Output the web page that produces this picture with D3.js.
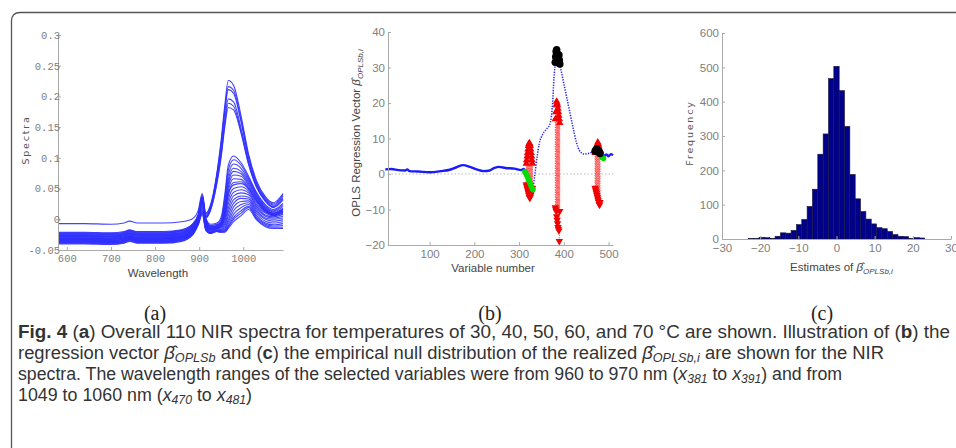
<!DOCTYPE html>
<html>
<head>
<meta charset="utf-8">
<script src="https://cdn.jsdelivr.net/npm/d3@7"></script>
<style>
  body { margin: 0; background: white; }
  .axis path, .axis line { stroke: #aaa; }
  .axis text { fill: #808080; }
</style>
</head>
<body>
<div id="fig"></div>
<script>
// ---- panel (a): NIR spectra ----
var wavelengths = [580, 640, 700, 730, 742, 760, 820, 860, 885, 898, 907, 915, 925, 940, 950, 958, 966, 978, 995, 1012, 1030, 1050, 1068, 1090];
var spectra = [
  [-0.007,-0.007,-0.008,-0.006,-0.003,-0.006,-0.006,-0.004,0.001,0.015,0.042,0.010,0.022,0.075,0.130,0.185,0.226,0.218,0.168,0.106,0.063,0.037,0.027,0.042],
  [-0.021,-0.021,-0.022,-0.020,-0.017,-0.020,-0.020,-0.017,-0.008,0.008,0.040,0.008,0.020,0.072,0.125,0.178,0.216,0.210,0.162,0.102,0.060,0.035,0.025,0.040],
  [-0.024,-0.024,-0.025,-0.023,-0.020,-0.023,-0.023,-0.020,-0.010,0.006,0.038,0.006,0.018,0.070,0.122,0.174,0.211,0.205,0.158,0.100,0.058,0.033,0.023,0.038],
  [-0.027,-0.027,-0.028,-0.026,-0.023,-0.026,-0.026,-0.023,-0.013,0.004,0.036,0.004,0.016,0.064,0.112,0.162,0.196,0.191,0.148,0.094,0.055,0.031,0.021,0.035],
  [-0.030,-0.030,-0.031,-0.029,-0.026,-0.029,-0.029,-0.026,-0.016,0.003,0.035,0.003,0.014,0.060,0.106,0.155,0.189,0.184,0.143,0.091,0.053,0.030,0.020,0.033],
  [-0.033,-0.033,-0.034,-0.032,-0.029,-0.032,-0.032,-0.029,-0.018,0.002,0.034,0.002,0.013,0.057,0.102,0.150,0.182,0.178,0.140,0.089,0.052,0.029,0.019,0.031],
  [-0.023,-0.023,-0.024,-0.022,-0.019,-0.022,-0.022,-0.019,-0.009,0.006,0.036,0.002,-0.008,-0.006,0.004,0.040,0.088,0.103,0.092,0.070,0.044,0.024,0.016,0.026],
  [-0.026,-0.026,-0.027,-0.025,-0.022,-0.025,-0.025,-0.022,-0.012,0.004,0.034,0.000,-0.010,-0.008,0.000,0.034,0.080,0.097,0.088,0.067,0.042,0.022,0.014,0.024],
  [-0.028,-0.028,-0.029,-0.027,-0.024,-0.027,-0.027,-0.024,-0.014,0.002,0.032,-0.002,-0.012,-0.010,-0.003,0.028,0.072,0.090,0.083,0.064,0.040,0.020,0.012,0.021],
  [-0.031,-0.031,-0.032,-0.030,-0.027,-0.030,-0.030,-0.027,-0.016,0.001,0.031,-0.003,-0.013,-0.011,-0.005,0.022,0.064,0.083,0.078,0.061,0.038,0.018,0.010,0.018],
  [-0.033,-0.033,-0.034,-0.032,-0.029,-0.032,-0.032,-0.029,-0.018,0.000,0.030,-0.004,-0.014,-0.012,-0.007,0.018,0.058,0.078,0.074,0.058,0.036,0.017,0.009,0.016],
  [-0.035,-0.035,-0.036,-0.034,-0.031,-0.034,-0.034,-0.031,-0.020,-0.001,0.029,-0.005,-0.015,-0.013,-0.009,0.014,0.052,0.072,0.070,0.055,0.034,0.015,0.008,0.014],
  [-0.037,-0.037,-0.038,-0.036,-0.033,-0.036,-0.036,-0.033,-0.022,-0.002,0.028,-0.006,-0.016,-0.014,-0.010,0.010,0.046,0.066,0.065,0.052,0.032,0.014,0.007,0.012],
  [-0.039,-0.039,-0.040,-0.038,-0.035,-0.038,-0.038,-0.035,-0.024,-0.003,0.027,-0.007,-0.017,-0.015,-0.012,0.006,0.040,0.060,0.061,0.049,0.030,0.013,0.006,0.011],
  [-0.022,-0.022,-0.023,-0.021,-0.018,-0.021,-0.021,-0.018,-0.008,0.008,0.033,0.000,-0.010,-0.009,-0.006,0.010,0.040,0.056,0.058,0.050,0.030,0.015,0.010,0.016],
  [-0.025,-0.025,-0.026,-0.024,-0.021,-0.024,-0.024,-0.021,-0.011,0.005,0.030,-0.003,-0.013,-0.011,-0.009,0.004,0.032,0.050,0.053,0.046,0.027,0.012,0.008,0.013],
  [-0.027,-0.027,-0.028,-0.026,-0.023,-0.026,-0.026,-0.023,-0.013,0.003,0.028,-0.006,-0.015,-0.013,-0.011,0.000,0.025,0.044,0.048,0.043,0.024,0.010,0.006,0.010],
  [-0.029,-0.029,-0.030,-0.028,-0.025,-0.028,-0.028,-0.025,-0.015,0.001,0.025,-0.008,-0.017,-0.014,-0.013,-0.004,0.018,0.038,0.043,0.040,0.021,0.007,0.004,0.008],
  [-0.031,-0.031,-0.032,-0.030,-0.027,-0.030,-0.030,-0.027,-0.017,-0.001,0.022,-0.010,-0.018,-0.015,-0.014,-0.008,0.012,0.032,0.038,0.036,0.018,0.005,0.002,0.005],
  [-0.032,-0.032,-0.033,-0.031,-0.028,-0.031,-0.031,-0.028,-0.018,-0.002,0.020,-0.012,-0.019,-0.016,-0.016,-0.011,0.006,0.026,0.034,0.033,0.015,0.002,0.000,0.002],
  [-0.034,-0.034,-0.035,-0.033,-0.030,-0.033,-0.033,-0.030,-0.020,-0.004,0.018,-0.013,-0.020,-0.017,-0.017,-0.014,0.000,0.020,0.029,0.030,0.012,0.000,-0.003,-0.001],
  [-0.035,-0.035,-0.036,-0.034,-0.031,-0.034,-0.034,-0.031,-0.021,-0.005,0.016,-0.014,-0.021,-0.018,-0.018,-0.016,-0.004,0.014,0.024,0.027,0.009,-0.003,-0.006,-0.004],
  [-0.036,-0.036,-0.037,-0.035,-0.032,-0.035,-0.035,-0.032,-0.022,-0.006,0.014,-0.015,-0.022,-0.019,-0.019,-0.018,-0.008,0.008,0.019,0.024,0.006,-0.006,-0.009,-0.007],
  [-0.037,-0.037,-0.038,-0.036,-0.033,-0.036,-0.036,-0.033,-0.023,-0.007,0.012,-0.016,-0.022,-0.019,-0.020,-0.019,-0.011,0.003,0.014,0.021,0.003,-0.008,-0.011,-0.010],
  [-0.038,-0.038,-0.039,-0.037,-0.034,-0.037,-0.037,-0.034,-0.024,-0.008,0.010,-0.017,-0.023,-0.020,-0.021,-0.020,-0.013,0.000,0.010,0.019,0.001,-0.010,-0.013,-0.013],
  [-0.040,-0.040,-0.041,-0.039,-0.036,-0.039,-0.039,-0.036,-0.026,-0.009,0.008,-0.018,-0.023,-0.020,-0.021,-0.021,-0.015,-0.004,0.006,0.016,-0.001,-0.012,-0.015,-0.015]
];
var specYTicks = [-0.05, 0, 0.05, 0.1, 0.15, 0.2, 0.25, 0.3];
var specYLabels = ["-0.05", "0", "0.05", "0.1", "0.15", "0.2", "0.25", "0.3"];
var specXTicks = [600, 700, 800, 900, 1000];

// ---- panel (b): OPLS regression vector ----
var blueFlat = [[1,1.3],[15,1.4],[30,1.1],[45,1.0],[50,1.3],[55,0.8],[75,0.7],[100,0.5],[125,0.8],[145,1.2],[160,1.9],[175,2.5],[190,2.0],[205,1.3],[220,0.8],[232,0.9],[245,1.7],[255,2.0],[270,1.7],[290,1.5],[305,1.1],[310,1.4],[314,1.0]];
var blueRise = [[331,-4.2],[335,-0.5],[340,4.5],[345,8.5],[352,11],[360,12.5],[368,13.8],[372,16],[375,20],[378,27],[381,31]];
var blueFall = [[391,31],[400,25.5],[410,19.5],[420,13.5],[428,9],[435,6.6],[445,5.6],[455,5.8],[465,6.2],[470,6.3]];
var blueTail = [[489,4.8],[495,5.5],[500,5.0],[505,5.6],[510,5.3]];
var greenA = [[313,0.6],[315,0.2],[317,-0.3],[319,-0.8],[321,-1.5],[323,-2.1],[325,-2.8],[327,-3.4],[329,-4.0],[331,-4.4]];
var greenB = [[481,5.6],[483,5.2],[485,4.8],[487,4.5],[489,4.4]];
var blackB = [[381,31.5],[382,33],[383,34.5],[384,35],[385,34],[386,33],[387,32],[388,32.5],[389,33.5],[390,32],[391,31]];
var blackC = [[470,6.4],[472,6.8],[474,7.0],[476,6.7],[478,6.3],[480,6.0],[481,5.8]];
var redAVars = [316,317,318,319,320,321,322,323,324,325,326,327,328,329,330];
var redAHi = [3.5,4.5,5.5,6.5,7.5,8.5,9.0,9.3,9.0,8.5,7.5,6.5,5.5,4.5,3.5];
var redALo = [-3.5,-4.0,-4.5,-5.0,-5.5,-6.0,-6.5,-7.0,-7.3,-7.0,-6.5,-6.0,-5.5,-5.0,-4.5];
var redBVars = [381,382,383,384,385,386,387,388,389,390,391];
var redBHi = [16,18,20,21,20.5,20,19,18,17,16,15];
var redBLo = [-10,-10.5,-11,-12.5,-13.5,-14.5,-15.5,-16,-16.5,-19.5,-11];
var redCVars = [470,471,472,473,474,475,476,477,478,479,480,481];
var redCHi = [6.5,7,7.5,8,8.5,9,9.5,9,8.5,8,7.5,7];
var redCLo = [-4.5,-5,-5.5,-6,-6.5,-7,-7.5,-8,-8.5,-9,-9.3,-8.5];
var regYTicks = [-20, -10, 0, 10, 20, 30, 40];
var regXTicks = [100, 200, 300, 400, 500];

// ---- panel (c): null distribution histogram ----
var binCenters = [-22.4,-21.0,-19.6,-18.2,-16.8,-15.4,-14.0,-12.6,-11.2,-9.8,-8.4,-7.0,-5.6,-4.2,-2.8,-1.4,0.0,1.4,2.8,4.2,5.6,7.0,8.4,9.8,11.2,12.6,14.0,15.4,16.8,18.2,19.6,21.0,22.4];
var binCounts = [1,1,5,4,2,8,18,17,25,42,57,95,145,247,306,467,503,432,328,188,117,80,58,44,33,30,22,13,8,7,1,4,3];
var binWidth = 1.4;
var histYTicks = [0, 100, 200, 300, 400, 500, 600];
var histXTicks = [-30, -20, -10, 0, 10, 20, 30];

var W = 956, H = 448;
var svg = d3.select("#fig").append("svg")
  .attr("width", W)
  .attr("height", H)
  .style("display", "block")
  .style("background", "white");

// frame round the figure (left + top only)
svg.append("path")
  .attr("d", "M11.5,448 V21 Q11.5,12.5 20,12.5 H956")
  .attr("fill", "none")
  .attr("stroke", "#555")
  .attr("stroke-width", 1.3);

var narrow = "'Liberation Sans Narrow', 'Arial Narrow', 'Liberation Sans', sans-serif";

// ================= (a) =================
var xa = d3.scaleLinear().domain([580, 1090]).range([58, 283]);
var ya = d3.scaleLinear().domain([-0.05, 0.3]).range([250, 35]);

var gA = svg.append("g");
var line = d3.line()
  .x(function(d, i){ return xa(wavelengths[i]); })
  .y(function(d){ return ya(d); })
  .curve(d3.curveMonotoneX);

gA.selectAll("path.spec")
  .data(spectra)
  .enter()
  .append("path")
    .attr("class", "spec")
    .attr("d", line)
    .attr("fill", "none")
    .attr("stroke", "#2f2fff")
    .attr("stroke-width", 1.1)
    .attr("stroke-opacity", 0.9);

gA.append("g").attr("class", "axis")
  .attr("transform", "translate(58,0)")
  .call(d3.axisLeft(ya).tickValues(specYTicks).tickSizeInner(-3).tickSizeOuter(0).tickPadding(-2)
    .tickFormat(function(d, i){ return specYLabels[i]; }));
gA.append("g").attr("class", "axis")
  .attr("transform", "translate(0,250)")
  .call(d3.axisBottom(xa).tickValues(specXTicks).tickSizeInner(-3).tickSizeOuter(0).tickPadding(5)
    .tickFormat(d3.format("d")));
gA.selectAll(".axis text")
  .style("font-family", "'Liberation Mono', 'DejaVu Sans Mono', monospace")
  .style("font-size", "10.5px");

gA.append("text")
  .attr("x", 158).attr("y", 277)
  .attr("text-anchor", "middle")
  .style("font-family", narrow).style("font-size", "11.5px").attr("fill", "#444")
  .text("Wavelength");
gA.append("text")
  .attr("transform", "translate(29,140) rotate(-90)")
  .attr("text-anchor", "middle")
  .style("font-family", "'DejaVu Sans', sans-serif").style("font-size", "9.5px")
  .style("letter-spacing", "1.8px").attr("fill", "#555")
  .text("Spectra");

// ================= (b) =================
var xb = d3.scaleLinear().domain([7, 510]).range([388, 613]);
var yb = d3.scaleLinear().domain([-20, 40]).range([245, 32]);
var gB = svg.append("g");

gB.append("line")
  .attr("x1", 388).attr("x2", 613)
  .attr("y1", yb(0)).attr("y2", yb(0))
  .attr("stroke", "#bbb").attr("stroke-dasharray", "1.5,2");

var lineB = d3.line()
  .x(function(d){ return xb(d[0]); })
  .y(function(d){ return yb(d[1]); })
  .curve(d3.curveMonotoneX);

gB.append("path").attr("d", lineB(blueFlat))
  .attr("fill", "none").attr("stroke", "#1a1aff").attr("stroke-width", 2.4);
[blueRise, blueFall, blueTail].forEach(function(seg, i){
  gB.append("path").attr("d", lineB(seg))
    .attr("fill", "none").attr("stroke", "#2020ff")
    .attr("stroke-width", i == 2 ? 2.4 : 1.5)
    .attr("stroke-dasharray", i == 2 ? null : "1.3,1.3");
});

// red intervals with arrow heads
var tri = d3.symbol().type(d3.symbolTriangle).size(24);
function drawIntervals(vars, hi, lo) {
  var rows = vars.map(function(v, i){ return {v: v, hi: hi[i], lo: lo[i]}; });
  gB.append("g").selectAll("line")
    .data(rows).enter().append("line")
      .attr("x1", function(d){ return xb(d.v); })
      .attr("x2", function(d){ return xb(d.v); })
      .attr("y1", function(d){ return yb(d.hi); })
      .attr("y2", function(d){ return yb(d.lo); })
      .attr("stroke", "#ff4040").attr("stroke-width", 0.9)
      .attr("stroke-dasharray", "1.2,1.2");
  gB.append("g").selectAll("path.up")
    .data(rows).enter().append("path")
      .attr("d", tri)
      .attr("transform", function(d){ return "translate(" + xb(d.v) + "," + (yb(d.hi) + 2) + ")"; })
      .attr("fill", "#f00000");
  gB.append("g").selectAll("path.down")
    .data(rows).enter().append("path")
      .attr("d", tri)
      .attr("transform", function(d){ return "translate(" + xb(d.v) + "," + (yb(d.lo) - 2) + ") rotate(180)"; })
      .attr("fill", "#f00000");
}
drawIntervals(redAVars, redAHi, redALo);
drawIntervals(redBVars, redBHi, redBLo);
drawIntervals(redCVars, redCHi, redCLo);

function dots(pts, r, col) {
  gB.append("g").selectAll("circle")
    .data(pts).enter().append("circle")
      .attr("cx", function(d){ return xb(d[0]); })
      .attr("cy", function(d){ return yb(d[1]); })
      .attr("r", r)
      .attr("fill", col);
}
dots(greenA, 2.8, "#00dd00");
dots(greenB, 2.6, "#00dd00");
dots(blackB, 3.8, "#000");
dots(blackC, 3.8, "#000");

gB.append("g").attr("class", "axis")
  .attr("transform", "translate(388,0)")
  .call(d3.axisLeft(yb).tickValues(regYTicks).tickSizeInner(-3).tickSizeOuter(0).tickPadding(3));
gB.append("g").attr("class", "axis")
  .attr("transform", "translate(0,245)")
  .call(d3.axisBottom(xb).tickValues(regXTicks).tickSizeInner(-3).tickSizeOuter(0).tickPadding(5));
gB.selectAll(".axis text")
  .style("font-family", "'Liberation Sans', sans-serif").style("font-size", "11.5px");

gB.append("text")
  .attr("x", 493).attr("y", 272)
  .attr("text-anchor", "middle")
  .style("font-family", narrow).style("font-size", "11.5px").attr("fill", "#444")
  .text("Variable number");

var ylabB = gB.append("text")
  .attr("transform", "translate(360,133) rotate(-90)")
  .attr("text-anchor", "middle")
  .style("font-family", narrow).style("font-size", "11.5px").attr("fill", "#444");
ylabB.append("tspan").text("OPLS Regression Vector ");
ylabB.append("tspan").style("font-style", "italic").text("\u03B2\u0302");
ylabB.append("tspan").style("font-style", "italic").style("font-size", "8px").attr("dy", 3).text("OPLSb,i");

// ================= (c) =================
var xc = d3.scaleLinear().domain([-30, 30]).range([722, 951]);
var yc = d3.scaleLinear().domain([0, 600]).range([239, 33]);
var gC = svg.append("g");

gC.selectAll("rect")
  .data(binCenters)
  .enter()
  .append("rect")
    .attr("x", function(d){ return xc(d - binWidth / 2); })
    .attr("width", function(d){ return xc(d + binWidth / 2) - xc(d - binWidth / 2); })
    .attr("y", function(d, i){ return yc(binCounts[i]); })
    .attr("height", function(d, i){ return yc(0) - yc(binCounts[i]); })
    .attr("fill", "#00008c")
    .attr("stroke", "#1a1a3a")
    .attr("stroke-width", 0.6);

gC.append("g").attr("class", "axis")
  .attr("transform", "translate(722,0)")
  .call(d3.axisLeft(yc).tickValues(histYTicks).tickSizeInner(-3).tickSizeOuter(0).tickPadding(3));
gC.append("g").attr("class", "axis")
  .attr("transform", "translate(0,239)")
  .call(d3.axisBottom(xc).tickValues(histXTicks).tickSizeInner(-3).tickSizeOuter(0).tickPadding(5));
gC.selectAll(".axis text")
  .style("font-family", "'Liberation Sans', sans-serif").style("font-size", "11.5px");

var xlabC = gC.append("text")
  .attr("x", 790).attr("y", 271)
  .style("font-family", narrow).style("font-size", "11.5px").attr("fill", "#444");
xlabC.append("tspan").text("Estimates of ");
xlabC.append("tspan").style("font-style", "italic").text("\u03B2\u0302");
xlabC.append("tspan").style("font-style", "italic").style("font-size", "8px").attr("dy", 3).text("OPLSb,i");

gC.append("text")
  .attr("transform", "translate(693,133) rotate(-90)")
  .attr("text-anchor", "middle")
  .style("font-family", "'DejaVu Sans', sans-serif").style("font-size", "9.5px")
  .style("letter-spacing", "1.8px").attr("fill", "#555")
  .text("Frequency");

// ---- sub-figure letters ----
var letters = [["(a)", 155], ["(b)", 490], ["(c)", 822]];
svg.selectAll("text.sub")
  .data(letters).enter().append("text")
    .attr("class", "sub")
    .attr("x", function(d){ return d[1]; })
    .attr("y", 320)
    .attr("text-anchor", "middle")
    .style("font-family", "'Liberation Serif', 'DejaVu Serif', serif")
    .style("font-size", "20px")
    .attr("fill", "#222")
    .text(function(d){ return d[0]; });

// ---- caption ----
var captionLines = [
  [["Fig. 4", "b"], ["  (", ""], ["a", "b"], [") Overall 110 NIR spectra for temperatures of 30, 40, 50, 60, and 70 \u00B0C are shown. Illustration of (", ""], ["b", "b"], [") the", ""]],
  [["regression vector ", ""], ["\u03B2\u0302", "i"], ["OPLSb", "s"], [" and (", ""], ["c", "b"], [") the empirical null distribution of the realized ", ""], ["\u03B2\u0302", "i"], ["OPLSb,i", "s"], [" are shown for the NIR", ""]],
  [["spectra. The wavelength ranges of the selected variables were from 960 to 970 nm (", ""], ["x", "i"], ["381", "s"], [" to ", ""], ["x", "i"], ["391", "s"], [") and from", ""]],
  [["1049 to 1060 nm (", ""], ["x", "i"], ["470", "s"], [" to ", ""], ["x", "i"], ["481", "s"], [")", ""]]
];
var captionWidths = [932, 866, 824, 234];

captionLines.forEach(function(segs, li){
  var t = svg.append("text")
    .attr("x", 18)
    .attr("y", 338 + li * 21)
    .attr("textLength", captionWidths[li])
    .attr("lengthAdjust", "spacingAndGlyphs")
    .style("font-family", narrow)
    .style("font-size", "17.5px")
    .attr("fill", "#333");
  var shifted = false;
  segs.forEach(function(s){
    var ts = t.append("tspan").text(s[0]);
    if (s[1] == "b") ts.style("font-weight", "bold");
    if (s[1] == "i") ts.style("font-style", "italic");
    if (s[1] == "s") { ts.style("font-style", "italic").style("font-size", "12px").attr("dy", 3); shifted = true; }
    else if (shifted) { ts.attr("dy", -3); shifted = false; }
  });
});
</script>
</body>
</html>
